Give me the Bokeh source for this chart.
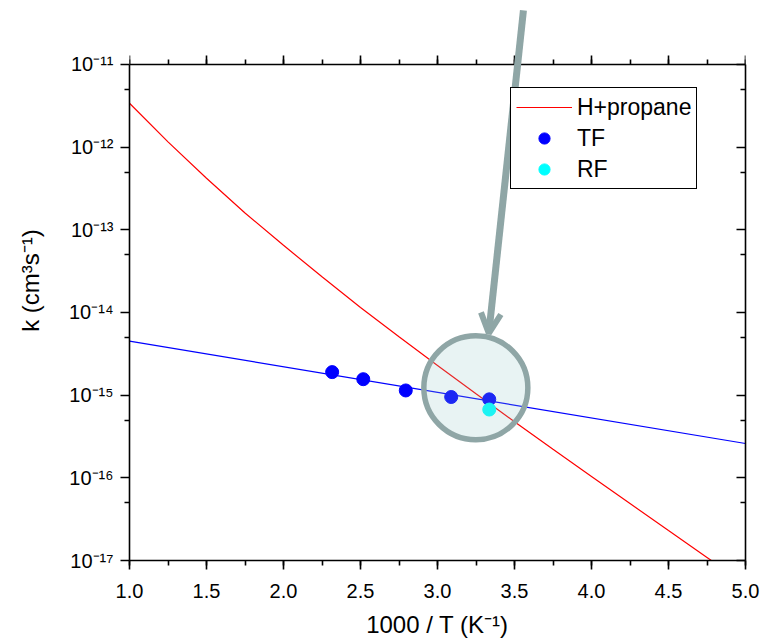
from bokeh.plotting import figure
from bokeh.models import (LogAxis, LinearAxis, FixedTicker, SingleIntervalTicker,
                          CustomJSTickFormatter, PrintfTickFormatter, Legend, LegendItem,
                          Arrow, OpenHead)
from bokeh.embed import file_html
from bokeh.resources import INLINE

# ---- data ----
inv_T_hp = [1.0, 1.25, 1.5, 1.75, 2.0, 2.25, 2.5, 2.75, 3.0, 3.25, 3.5, 3.75, 4.0, 4.25, 4.5, 4.75, 5.0]
k_hp = [3.40e-12, 1.16e-12, 4.2e-13, 1.6e-13, 6.5e-14, 2.7e-14, 1.15e-14, 5.09e-15, 2.29e-15,
        1.04e-15, 4.78e-16, 2.22e-16, 1.04e-16, 4.89e-17, 2.30e-17, 1.09e-17, 5.15e-18]

inv_T_fit = [1.0, 5.0]
k_fit = [4.5e-15, 2.6e-16]

inv_T_tf = [2.316, 2.518, 2.794, 3.089, 3.336]
k_tf = [1.90e-15, 1.56e-15, 1.14e-15, 9.5e-16, 8.9e-16]

inv_T_rf = [3.336]
k_rf = [6.7e-16]

y_ticks = [1e-17, 1e-16, 1e-15, 1e-14, 1e-13, 1e-12, 1e-11]
y_minor = [5e-17, 5e-16, 5e-15, 5e-14, 5e-13, 5e-12]
y_axis_bounds = (1e-17, 1e-11)
y_view_top = 5.945e-11   # visible space above the frame (for the arrow)

# annotation (highlight circle and arrow)
circle_x = [3.249]
circle_k = [1.23e-15]
arrow_start = (3.558, 4.5e-11)
arrow_end = (3.333, 5.6e-15)

FONT = "Liberation Sans"
GRAY = "#8fa6a6"

p = figure(width=761, height=641, y_axis_type="log", x_range=(1.0, 5.0),
           y_range=(y_axis_bounds[0], y_view_top),
           output_backend="svg", toolbar_location=None,
           min_border_left=129, min_border_right=16, min_border_top=0, min_border_bottom=81)
p.xgrid.visible = False
p.ygrid.visible = False
p.outline_line_color = None
p.background_fill_color = "white"
p.border_fill_color = "white"

sup_js = """
const m = {'-':'\u207b','0':'\u2070','1':'\u00b9','2':'\u00b2','3':'\u00b3','4':'\u2074',
           '5':'\u2075','6':'\u2076','7':'\u2077','8':'\u2078','9':'\u2079'};
const e = Math.round(Math.log10(tick));
return '10' + String(e).split('').map(c => m[c]).join('');
"""

def style(ax, inward):
    ax.axis_line_color = "black"
    ax.axis_line_width = 1.6
    ax.major_tick_line_color = "black"
    ax.minor_tick_line_color = "black"
    ax.major_tick_line_width = 1.6
    ax.minor_tick_line_width = 1.6
    if inward:
        ax.major_tick_in, ax.major_tick_out = 9, 0
        ax.minor_tick_in, ax.minor_tick_out = 5, 0
    else:
        ax.major_tick_in, ax.major_tick_out = 0, 9
        ax.minor_tick_in, ax.minor_tick_out = 0, 5
    ax.major_label_text_font = FONT
    ax.major_label_text_font_size = "20px"
    ax.major_label_text_color = "black"
    ax.axis_label_text_font = FONT
    ax.axis_label_text_font_size = "24px"
    ax.axis_label_text_font_style = "normal"
    ax.axis_label_text_color = "black"

xax = p.xaxis[0]
xax.ticker = SingleIntervalTicker(interval=0.5, num_minor_ticks=2)
xax.formatter = PrintfTickFormatter(format="%.1f")
xax.axis_label = "1000 / T (K\u207b\u00b9)"
style(xax, False)
xax.major_label_standoff = 14
xax.axis_label_standoff = 10

yax = p.yaxis[0]
yax.ticker = FixedTicker(ticks=y_ticks, minor_ticks=y_minor)
yax.formatter = CustomJSTickFormatter(code=sup_js)
yax.axis_label = "k (cm\u00b3s\u207b\u00b9)"
yax.bounds = y_axis_bounds
style(yax, False)
yax.major_label_standoff = 7
yax.axis_label_standoff = 22

blank = CustomJSTickFormatter(code="return '';")
top = LinearAxis(ticker=SingleIntervalTicker(interval=0.5, num_minor_ticks=2), formatter=blank,
                 fixed_location=y_axis_bounds[1])
style(top, False)
top.major_tick_in, top.major_tick_out = 9, 0
top.minor_tick_in, top.minor_tick_out = 5, 0
p.add_layout(top, "below")
right = LogAxis(ticker=FixedTicker(ticks=y_ticks, minor_ticks=y_minor), formatter=blank,
                bounds=y_axis_bounds)
style(right, True)
p.add_layout(right, "right")

r_hp = p.line(inv_T_hp, k_hp, line_color="#ff0000", line_width=1.2)
p.line(inv_T_fit, k_fit, line_color="#0000ff", line_width=1.2)
r_tf = p.scatter(inv_T_tf, k_tf, size=13, fill_color="#0000ff", line_color="#0000ff")
r_rf = p.scatter(inv_T_rf, k_rf, size=13, fill_color="#00ffff", line_color="#00ffff")

p.scatter(circle_x, circle_k, size=104, fill_color="#8cc3c3", fill_alpha=0.2,
          line_color=GRAY, line_width=5.5)

legend = Legend(items=[LegendItem(label="H+propane", renderers=[r_hp]),
                       LegendItem(label="TF", renderers=[r_tf]),
                       LegendItem(label="RF", renderers=[r_rf])],
                location=(381, 371), orientation="vertical",
                border_line_color="black", border_line_width=1, border_line_alpha=1,
                background_fill_color="white", background_fill_alpha=1,
                padding=5, spacing=3, margin=0, glyph_width=56, glyph_height=28,
                label_height=28, label_standoff=5, label_text_font=FONT,
                label_text_font_size="23px", label_text_color="black")
p.add_layout(legend, "center")

arrow = Arrow(end=OpenHead(size=20, line_color=GRAY, line_width=6),
              x_start=arrow_start[0], y_start=arrow_start[1],
              x_end=arrow_end[0], y_end=arrow_end[1],
              line_color=GRAY, line_width=7)
p.add_layout(arrow)

open("out.html", "w").write(file_html(p, INLINE))
